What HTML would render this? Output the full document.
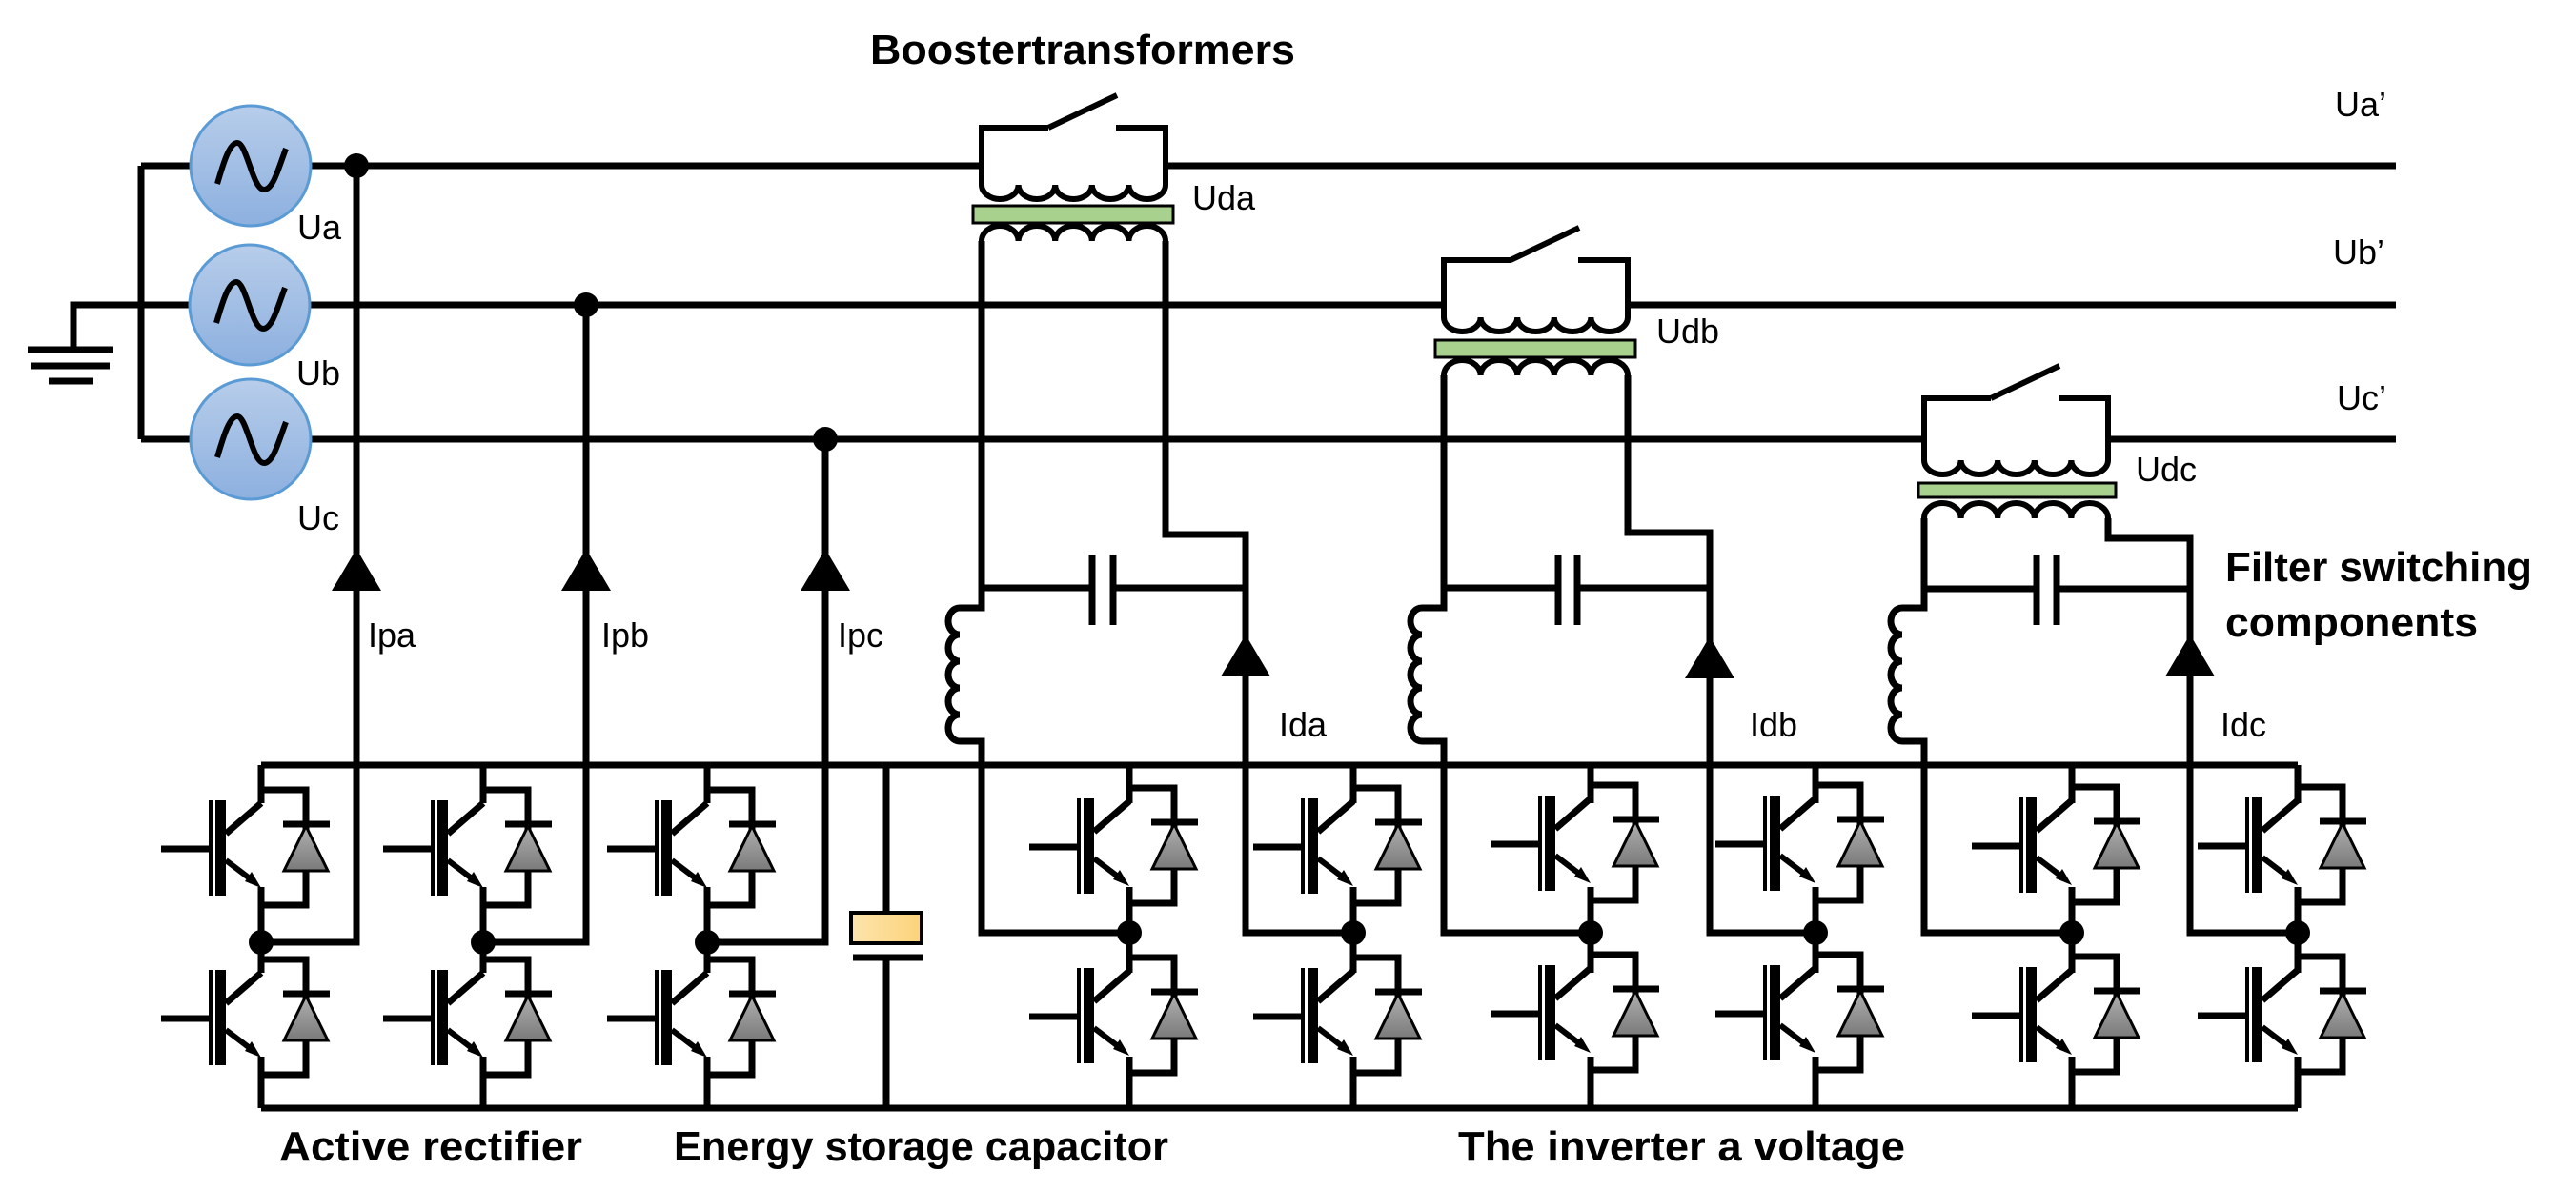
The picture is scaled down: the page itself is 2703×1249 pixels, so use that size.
<!DOCTYPE html>
<html><head><meta charset="utf-8"><style>
html,body{margin:0;padding:0;background:#fff;}
svg{display:block;}
text{font-family:"Liberation Sans",sans-serif;fill:#000;}
.r{font-size:36px;}
.b{font-size:44px;font-weight:bold;}
</style></head><body>
<svg width="2703" height="1249" viewBox="0 0 2703 1249" xmlns="http://www.w3.org/2000/svg">
<defs>
<linearGradient id="gb" x1="0" y1="0" x2="0" y2="1"><stop offset="0" stop-color="#b7cdea"/><stop offset="1" stop-color="#8db0df"/></linearGradient>
<linearGradient id="gd" x1="0" y1="0" x2="0" y2="1"><stop offset="0" stop-color="#b0b0b0"/><stop offset="1" stop-color="#7a7a7a"/></linearGradient>
<linearGradient id="gy" x1="0" y1="0" x2="1" y2="0"><stop offset="0" stop-color="#fde4ad"/><stop offset="1" stop-color="#fcd37a"/></linearGradient>
<g id="dev">
<path d="M0,0 H47 V121 H0" fill="none" stroke="#000" stroke-width="7"/>
<path d="M0,14 L-37,46" stroke="#000" stroke-width="7"/>
<rect x="-48" y="11" width="11" height="100" fill="#000"/>
<rect x="-55" y="11" width="4" height="100" fill="#000"/>
<path d="M-105,62 H-55" stroke="#000" stroke-width="7"/>
<path d="M-37,74 L-8,96" stroke="#000" stroke-width="6"/>
<polygon points="0,103 -17,96 -10,86" fill="#000"/>
<path d="M23,36 H72" stroke="#000" stroke-width="7"/>
<polygon points="47,38 24,85 70,85" fill="url(#gd)" stroke="#000" stroke-width="3"/>
</g>
<g id="src">
<circle cx="0" cy="0" r="63" fill="url(#gb)" stroke="#5b9bd5" stroke-width="3"/>
<path d="M-35,19 C-28,-5 -22,-24 -14,-24 C-4,-24 2,25 14,25 C24,25 30,0 37,-18" fill="none" stroke="#000" stroke-width="6"/>
</g>
</defs>
<g fill="none" stroke="#000" stroke-width="7">
<!-- phase lines -->
<path d="M148,174 H200 M326,174 H1030 M1223,174 H2514"/>
<path d="M77,367 V320 H199 M325,320 H1515 M1708,320 H2514"/>
<path d="M148,461 H200 M326,461 H2019 M2212,461 H2514"/>
<path d="M148,174 V461"/>
<path d="M29,367 H119 M33,384 H115 M51,400 H98"/>
<!-- rectifier feeds -->
<path d="M374,174 V989 H274 M615,320 V989 H507 M866,461 V989 H742"/>
<!-- DC buses -->
<path d="M274,803 H2411 M274,1163 H2411"/>
<!-- leg verticals -->
<path d="M274,803 V843 M274,931 V1021 M274,1109 V1163
M507,803 V843 M507,931 V1021 M507,1109 V1163
M742,803 V843 M742,931 V1021 M742,1109 V1163
M1185,803 V843 M1185,931 V1021 M1185,1109 V1163
M1420,803 V843 M1420,931 V1021 M1420,1109 V1163
M1669,803 V843 M1669,931 V1021 M1669,1109 V1163
M1905,803 V843 M1905,931 V1021 M1905,1109 V1163
M2174,803 V843 M2174,931 V1021 M2174,1109 V1163
M2411,803 V843 M2411,931 V1021 M2411,1109 V1163"/>
<!-- energy storage capacitor -->
<path d="M930,803 V958 M895,1005 H968 M930,1005 V1163"/>
<!-- Transformer A -->
<path d="M1100,134 H1030 V194 a19.3,15 0 0 0 38.6,0 a19.3,15 0 0 0 38.6,0 a19.3,15 0 0 0 38.6,0 a19.3,15 0 0 0 38.6,0 a19.3,15 0 0 0 38.6,0 V134 H1171 M1100,134 L1172,100" stroke-width="6"/>
<path d="M1030,253 a19.3,16 0 0 1 38.6,0 a19.3,16 0 0 1 38.6,0 a19.3,16 0 0 1 38.6,0 a19.3,16 0 0 1 38.6,0 a19.3,16 0 0 1 38.6,0" stroke-width="6"/>
<path d="M1030,253 V638 H1007 a12,14 0 0 0 0,28 a12,14 0 0 0 0,28 a12,14 0 0 0 0,28 a12,14 0 0 0 0,28 a12,14 0 0 0 0,28 H1030 V979 H1185"/>
<path d="M1223,253 V561 H1307 V979 H1420"/>
<path d="M1030,617 H1146 M1168,617 H1307 M1146,582 V656 M1168,582 V656"/>
<!-- Transformer B -->
<path d="M1585,273 H1515 V333 a19.3,15 0 0 0 38.6,0 a19.3,15 0 0 0 38.6,0 a19.3,15 0 0 0 38.6,0 a19.3,15 0 0 0 38.6,0 a19.3,15 0 0 0 38.6,0 V273 H1656 M1585,273 L1657,239" stroke-width="6"/>
<path d="M1515,394 a19.3,16 0 0 1 38.6,0 a19.3,16 0 0 1 38.6,0 a19.3,16 0 0 1 38.6,0 a19.3,16 0 0 1 38.6,0 a19.3,16 0 0 1 38.6,0" stroke-width="6"/>
<path d="M1515,394 V638 H1492 a12,14 0 0 0 0,28 a12,14 0 0 0 0,28 a12,14 0 0 0 0,28 a12,14 0 0 0 0,28 a12,14 0 0 0 0,28 H1515 V979 H1669"/>
<path d="M1708,394 V559 H1794 V979 H1905"/>
<path d="M1515,617 H1635 M1655,617 H1794 M1635,582 V656 M1655,582 V656"/>
<!-- Transformer C -->
<path d="M2089,418 H2019 V483 a19.3,15 0 0 0 38.6,0 a19.3,15 0 0 0 38.6,0 a19.3,15 0 0 0 38.6,0 a19.3,15 0 0 0 38.6,0 a19.3,15 0 0 0 38.6,0 V418 H2160 M2089,418 L2161,384" stroke-width="6"/>
<path d="M2019,544 a19.3,16 0 0 1 38.6,0 a19.3,16 0 0 1 38.6,0 a19.3,16 0 0 1 38.6,0 a19.3,16 0 0 1 38.6,0 a19.3,16 0 0 1 38.6,0" stroke-width="6"/>
<path d="M2019,544 V638 H1996 a12,14 0 0 0 0,28 a12,14 0 0 0 0,28 a12,14 0 0 0 0,28 a12,14 0 0 0 0,28 a12,14 0 0 0 0,28 H2019 V979 H2174"/>
<path d="M2212,544 V565 H2298 V979 H2411"/>
<path d="M2019,618 H2137 M2158,618 H2298 M2137,582 V656 M2158,582 V656"/>
</g>
<!-- cores -->
<rect x="1021" y="216" width="210" height="18" fill="#a9d18e" stroke="#000" stroke-width="3"/>
<rect x="1506" y="357" width="210" height="18" fill="#a9d18e" stroke="#000" stroke-width="3"/>
<rect x="2013" y="507" width="207" height="15" fill="#a9d18e" stroke="#000" stroke-width="3"/>
<rect x="893" y="958" width="74" height="32" fill="url(#gy)" stroke="#000" stroke-width="4"/>
<!-- sources -->
<use href="#src" x="263" y="174"/>
<use href="#src" x="262" y="320"/>
<use href="#src" x="263" y="461"/>
<!-- arrows -->
<g fill="#000">
<polygon points="374,576 348,620 400,620"/>
<polygon points="615,576 589,620 641,620"/>
<polygon points="866,576 840,620 892,620"/>
<polygon points="1307,666 1281,710 1333,710"/>
<polygon points="1794,668 1768,712 1820,712"/>
<polygon points="2298,666 2272,710 2324,710"/>
<circle cx="374" cy="174" r="13"/><circle cx="615" cy="320" r="13"/><circle cx="866" cy="461" r="13"/>
<circle cx="274" cy="989" r="13"/><circle cx="507" cy="989" r="13"/><circle cx="742" cy="989" r="13"/>
<circle cx="1185" cy="979" r="13"/><circle cx="1420" cy="979" r="13"/><circle cx="1669" cy="979" r="13"/>
<circle cx="1905" cy="979" r="13"/><circle cx="2174" cy="979" r="13"/><circle cx="2411" cy="979" r="13"/>
</g>
<!-- devices -->
<use href="#dev" x="274" y="829"/><use href="#dev" x="274" y="1007"/>
<use href="#dev" x="507" y="829"/><use href="#dev" x="507" y="1007"/>
<use href="#dev" x="742" y="829"/><use href="#dev" x="742" y="1007"/>
<use href="#dev" x="1185" y="827"/><use href="#dev" x="1185" y="1005"/>
<use href="#dev" x="1420" y="827"/><use href="#dev" x="1420" y="1005"/>
<use href="#dev" x="1669" y="824"/><use href="#dev" x="1669" y="1002"/>
<use href="#dev" x="1905" y="824"/><use href="#dev" x="1905" y="1002"/>
<use href="#dev" x="2174" y="826"/><use href="#dev" x="2174" y="1004"/>
<use href="#dev" x="2411" y="826"/><use href="#dev" x="2411" y="1004"/>
<!-- labels -->
<text class="r" x="312" y="251">Ua</text>
<text class="r" x="311" y="404">Ub</text>
<text class="r" x="312" y="556">Uc</text>
<text class="r" x="386" y="679">Ipa</text>
<text class="r" x="631" y="679">Ipb</text>
<text class="r" x="879" y="679">Ipc</text>
<text class="r" x="1251" y="220">Uda</text>
<text class="r" x="1738" y="360">Udb</text>
<text class="r" x="2241" y="505">Udc</text>
<text class="r" x="1342" y="773">Ida</text>
<text class="r" x="1836" y="773">Idb</text>
<text class="r" x="2330" y="773">Idc</text>
<text class="r" x="2450" y="122">Ua’</text>
<text class="r" x="2448" y="277">Ub’</text>
<text class="r" x="2452" y="430">Uc’</text>
<text class="b" x="913" y="67" textLength="446" lengthAdjust="spacingAndGlyphs">Boostertransformers</text>
<text class="b" x="2335" y="610" textLength="322" lengthAdjust="spacingAndGlyphs">Filter switching</text>
<text class="b" x="2335" y="668" textLength="265" lengthAdjust="spacingAndGlyphs">components</text>
<text class="b" x="293" y="1218" textLength="318" lengthAdjust="spacingAndGlyphs">Active rectifier</text>
<text class="b" x="707" y="1218" textLength="519" lengthAdjust="spacingAndGlyphs">Energy storage capacitor</text>
<text class="b" x="1530" y="1218" textLength="469" lengthAdjust="spacingAndGlyphs">The inverter a voltage</text>
</svg>
</body></html>
